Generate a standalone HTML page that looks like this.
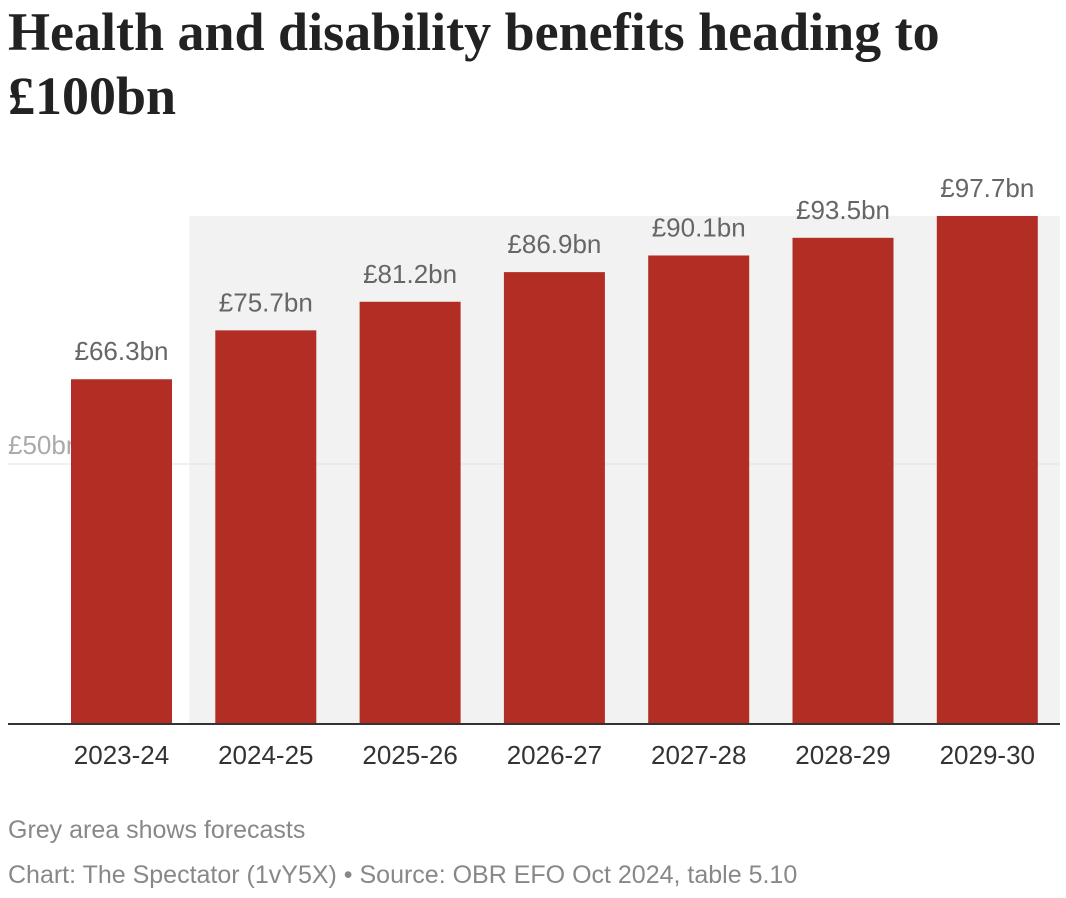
<!DOCTYPE html>
<html><head><meta charset="utf-8"><style>
body{margin:0;background:#fff;width:1066px;height:898px;overflow:hidden;font-family:"Liberation Sans",sans-serif}
h1{position:absolute;left:8px;top:0px;margin:0;font-family:"Liberation Serif",serif;font-weight:bold;font-size:54px;line-height:64px;color:#222;width:1000px;letter-spacing:0px}
.note{position:absolute;left:8px;font-size:25px;color:#888}
</style></head><body>
<h1>Health and disability benefits heading to £100bn</h1>
<svg id="chart" width="1066" height="898" style="position:absolute;left:0;top:0"></svg>
<div class="note" style="top:816px">Grey area shows forecasts</div>
<div class="note" style="top:861px">Chart: The Spectator (1vY5X) • Source: OBR EFO Oct 2024, table 5.10</div>
<script>
const categories=["2023-24","2024-25","2025-26","2026-27","2027-28","2028-29","2029-30"];
const values=[66.3,75.7,81.2,86.9,90.1,93.5,97.7];
const valueLabels=["£66.3bn","£75.7bn","£81.2bn","£86.9bn","£90.1bn","£93.5bn","£97.7bn"];
const gridTicks=[50];
const forecastStart=1;
const NS="http://www.w3.org/2000/svg";
const svg=document.getElementById('chart');
const base=724,scale=5.2,x0=71,pitch=144.3,bw=101;
const y=v=>base-v*scale;
const x=i=>x0+i*pitch;
function mk(t,a){const e=document.createElementNS(NS,t);for(const k in a)e.setAttribute(k,a[k]);svg.appendChild(e);return e;}
const bg=mk('rect',{x:x(forecastStart)-26,y:y(values[values.length-1]),width:1060-(x(forecastStart)-26),height:base-y(values[values.length-1]),fill:'#f2f2f2'});


gridTicks.forEach(t=>{
const l=mk('line',{x1:8,x2:1060,y1:y(t),y2:y(t),stroke:'#e2e2e2','stroke-width':1});


const tx=mk('text',{x:8,y:y(t)-10,'font-size':26,fill:'#aaa','font-family':'Liberation Sans,sans-serif'});
tx.textContent='£'+t+'bn';


});
values.forEach((v,i)=>{
const r=mk('rect',{x:x(i),y:y(v),width:bw,height:base-y(v),fill:'#b22e25'});


const t=mk('text',{x:x(i)+bw/2,y:y(v)-19,'font-size':26,fill:'#666','text-anchor':'middle','font-family':'Liberation Sans,sans-serif'});
t.textContent=valueLabels[i];


const c=mk('text',{x:x(i)+bw/2,y:base+40,'font-size':26,fill:'#333','text-anchor':'middle','font-family':'Liberation Sans,sans-serif'});
c.textContent=categories[i];


});
const ax=mk('line',{x1:8,x2:1060,y1:base,y2:base,stroke:'#333','stroke-width':2});


</script>
</body></html>
